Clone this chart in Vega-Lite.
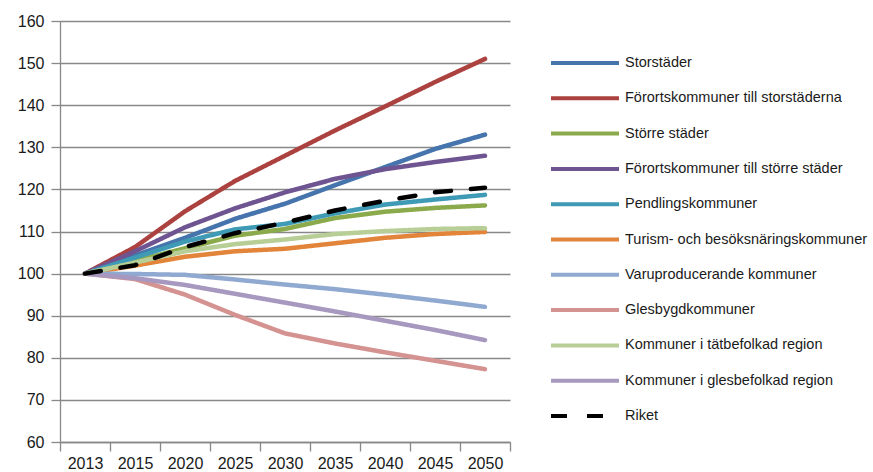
{
  "$schema": "https://vega.github.io/schema/vega-lite/v6.json",
  "autosize": {"type": "none"},
  "padding": {"left": 60, "top": 21, "right": 363, "bottom": 30},
  "width": 450,
  "height": 421,
  "background": "white",
  "config": {
    "font": "Liberation Sans",
    "view": {"stroke": null},
    "axis": {
      "labelFont": "Liberation Sans",
      "labelFontSize": 16,
      "labelColor": "#1a1a1a",
      "domainColor": "#888888",
      "domainWidth": 1.3,
      "tickColor": "#888888",
      "tickWidth": 1.3,
      "gridColor": "#888888",
      "gridWidth": 1.3,
      "title": null
    }
  },
  "data": {
    "values": [
      {"region": "Storstäder", "year": "2013", "value": 100},
      {"region": "Storstäder", "year": "2015", "value": 104.3},
      {"region": "Storstäder", "year": "2020", "value": 108.5},
      {"region": "Storstäder", "year": "2025", "value": 113},
      {"region": "Storstäder", "year": "2030", "value": 116.6},
      {"region": "Storstäder", "year": "2035", "value": 121},
      {"region": "Storstäder", "year": "2040", "value": 125.3},
      {"region": "Storstäder", "year": "2045", "value": 129.6},
      {"region": "Storstäder", "year": "2050", "value": 133},

      {"region": "Förortskommuner till storstäderna", "year": "2013", "value": 100},
      {"region": "Förortskommuner till storstäderna", "year": "2015", "value": 106.3},
      {"region": "Förortskommuner till storstäderna", "year": "2020", "value": 114.8},
      {"region": "Förortskommuner till storstäderna", "year": "2025", "value": 122},
      {"region": "Förortskommuner till storstäderna", "year": "2030", "value": 128},
      {"region": "Förortskommuner till storstäderna", "year": "2035", "value": 134},
      {"region": "Förortskommuner till storstäderna", "year": "2040", "value": 139.7},
      {"region": "Förortskommuner till storstäderna", "year": "2045", "value": 145.5},
      {"region": "Förortskommuner till storstäderna", "year": "2050", "value": 151},

      {"region": "Större städer", "year": "2013", "value": 100},
      {"region": "Större städer", "year": "2015", "value": 103},
      {"region": "Större städer", "year": "2020", "value": 106},
      {"region": "Större städer", "year": "2025", "value": 109},
      {"region": "Större städer", "year": "2030", "value": 110.6},
      {"region": "Större städer", "year": "2035", "value": 113.2},
      {"region": "Större städer", "year": "2040", "value": 114.7},
      {"region": "Större städer", "year": "2045", "value": 115.6},
      {"region": "Större städer", "year": "2050", "value": 116.2},

      {"region": "Förortskommuner till större städer", "year": "2013", "value": 100},
      {"region": "Förortskommuner till större städer", "year": "2015", "value": 105.3},
      {"region": "Förortskommuner till större städer", "year": "2020", "value": 111},
      {"region": "Förortskommuner till större städer", "year": "2025", "value": 115.5},
      {"region": "Förortskommuner till större städer", "year": "2030", "value": 119.3},
      {"region": "Förortskommuner till större städer", "year": "2035", "value": 122.5},
      {"region": "Förortskommuner till större städer", "year": "2040", "value": 124.8},
      {"region": "Förortskommuner till större städer", "year": "2045", "value": 126.5},
      {"region": "Förortskommuner till större städer", "year": "2050", "value": 128},

      {"region": "Pendlingskommuner", "year": "2013", "value": 100},
      {"region": "Pendlingskommuner", "year": "2015", "value": 103.8},
      {"region": "Pendlingskommuner", "year": "2020", "value": 107.6},
      {"region": "Pendlingskommuner", "year": "2025", "value": 110.5},
      {"region": "Pendlingskommuner", "year": "2030", "value": 111.8},
      {"region": "Pendlingskommuner", "year": "2035", "value": 114.3},
      {"region": "Pendlingskommuner", "year": "2040", "value": 116.4},
      {"region": "Pendlingskommuner", "year": "2045", "value": 117.6},
      {"region": "Pendlingskommuner", "year": "2050", "value": 118.7},

      {"region": "Turism- och besöksnäringskommuner", "year": "2013", "value": 100},
      {"region": "Turism- och besöksnäringskommuner", "year": "2015", "value": 101.9},
      {"region": "Turism- och besöksnäringskommuner", "year": "2020", "value": 104},
      {"region": "Turism- och besöksnäringskommuner", "year": "2025", "value": 105.3},
      {"region": "Turism- och besöksnäringskommuner", "year": "2030", "value": 105.9},
      {"region": "Turism- och besöksnäringskommuner", "year": "2035", "value": 107.2},
      {"region": "Turism- och besöksnäringskommuner", "year": "2040", "value": 108.5},
      {"region": "Turism- och besöksnäringskommuner", "year": "2045", "value": 109.4},
      {"region": "Turism- och besöksnäringskommuner", "year": "2050", "value": 109.9},

      {"region": "Varuproducerande kommuner", "year": "2013", "value": 100},
      {"region": "Varuproducerande kommuner", "year": "2015", "value": 99.9},
      {"region": "Varuproducerande kommuner", "year": "2020", "value": 99.7},
      {"region": "Varuproducerande kommuner", "year": "2025", "value": 98.6},
      {"region": "Varuproducerande kommuner", "year": "2030", "value": 97.4},
      {"region": "Varuproducerande kommuner", "year": "2035", "value": 96.3},
      {"region": "Varuproducerande kommuner", "year": "2040", "value": 95},
      {"region": "Varuproducerande kommuner", "year": "2045", "value": 93.6},
      {"region": "Varuproducerande kommuner", "year": "2050", "value": 92.1},

      {"region": "Glesbygdkommuner", "year": "2013", "value": 100},
      {"region": "Glesbygdkommuner", "year": "2015", "value": 98.7},
      {"region": "Glesbygdkommuner", "year": "2020", "value": 95},
      {"region": "Glesbygdkommuner", "year": "2025", "value": 90.2},
      {"region": "Glesbygdkommuner", "year": "2030", "value": 85.8},
      {"region": "Glesbygdkommuner", "year": "2035", "value": 83.4},
      {"region": "Glesbygdkommuner", "year": "2040", "value": 81.3},
      {"region": "Glesbygdkommuner", "year": "2045", "value": 79.3},
      {"region": "Glesbygdkommuner", "year": "2050", "value": 77.3},

      {"region": "Kommuner i tätbefolkad region", "year": "2013", "value": 100},
      {"region": "Kommuner i tätbefolkad region", "year": "2015", "value": 102.6},
      {"region": "Kommuner i tätbefolkad region", "year": "2020", "value": 105.3},
      {"region": "Kommuner i tätbefolkad region", "year": "2025", "value": 107},
      {"region": "Kommuner i tätbefolkad region", "year": "2030", "value": 108.1},
      {"region": "Kommuner i tätbefolkad region", "year": "2035", "value": 109.4},
      {"region": "Kommuner i tätbefolkad region", "year": "2040", "value": 110.1},
      {"region": "Kommuner i tätbefolkad region", "year": "2045", "value": 110.6},
      {"region": "Kommuner i tätbefolkad region", "year": "2050", "value": 110.8},

      {"region": "Kommuner i glesbefolkad region", "year": "2013", "value": 100},
      {"region": "Kommuner i glesbefolkad region", "year": "2015", "value": 98.9},
      {"region": "Kommuner i glesbefolkad region", "year": "2020", "value": 97.3},
      {"region": "Kommuner i glesbefolkad region", "year": "2025", "value": 95.2},
      {"region": "Kommuner i glesbefolkad region", "year": "2030", "value": 93.1},
      {"region": "Kommuner i glesbefolkad region", "year": "2035", "value": 91},
      {"region": "Kommuner i glesbefolkad region", "year": "2040", "value": 88.8},
      {"region": "Kommuner i glesbefolkad region", "year": "2045", "value": 86.6},
      {"region": "Kommuner i glesbefolkad region", "year": "2050", "value": 84.2},

      {"region": "Riket", "year": "2013", "value": 100},
      {"region": "Riket", "year": "2015", "value": 102},
      {"region": "Riket", "year": "2020", "value": 106.3},
      {"region": "Riket", "year": "2025", "value": 109.6},
      {"region": "Riket", "year": "2030", "value": 112.1},
      {"region": "Riket", "year": "2035", "value": 115},
      {"region": "Riket", "year": "2040", "value": 117.3},
      {"region": "Riket", "year": "2045", "value": 119.3},
      {"region": "Riket", "year": "2050", "value": 120.4}
    ]
  },
  "mark": {"type": "line", "strokeWidth": 4.5, "strokeCap": "round", "strokeJoin": "round"},
  "encoding": {
    "x": {
      "field": "year",
      "type": "ordinal",
      "bandPosition": 0.5,
      "scale": {"type": "band", "paddingInner": 0, "paddingOuter": 0},
      "axis": {"labelAngle": 0, "tickBand": "extent", "tickSize": 9, "labelPadding": 4, "grid": false}
    },
    "y": {
      "field": "value",
      "type": "quantitative",
      "scale": {"domain": [60, 160], "nice": false, "zero": false},
      "axis": {"values": [60, 70, 80, 90, 100, 110, 120, 130, 140, 150, 160], "tickSize": 9, "labelPadding": 7, "grid": true}
    },
    "color": {
      "field": "region",
      "type": "nominal",
      "scale": {
        "domain": ["Storstäder", "Förortskommuner till storstäderna", "Större städer", "Förortskommuner till större städer", "Pendlingskommuner", "Turism- och besöksnäringskommuner", "Varuproducerande kommuner", "Glesbygdkommuner", "Kommuner i tätbefolkad region", "Kommuner i glesbefolkad region", "Riket"],
        "range": ["#4674AC", "#AB423F", "#8AAA4B", "#6E5490", "#3F9BB5", "#E2843A", "#8FA9D0", "#D49391", "#B7CE96", "#A698BF", "#000000"]
      },
      "legend": {
        "title": null,
        "orient": "none",
        "legendX": 489,
        "legendY": 32,
        "symbolType": "stroke",
        "symbolSize": 4624,
        "symbolStrokeWidth": 4,
        "clipHeight": 20,
        "rowPadding": 15.3,
        "labelOffset": 4,
        "labelFont": "Liberation Sans",
        "labelFontSize": 14.5,
        "labelColor": "#1a1a1a",
        "labelLimit": 400
      }
    },
    "strokeDash": {
      "field": "region",
      "type": "nominal",
      "scale": {
        "domain": ["Storstäder", "Förortskommuner till storstäderna", "Större städer", "Förortskommuner till större städer", "Pendlingskommuner", "Turism- och besöksnäringskommuner", "Varuproducerande kommuner", "Glesbygdkommuner", "Kommuner i tätbefolkad region", "Kommuner i glesbefolkad region", "Riket"],
        "range": [[1, 0], [1, 0], [1, 0], [1, 0], [1, 0], [1, 0], [1, 0], [1, 0], [1, 0], [1, 0], [16, 20]]
      }
    }
  }
}
